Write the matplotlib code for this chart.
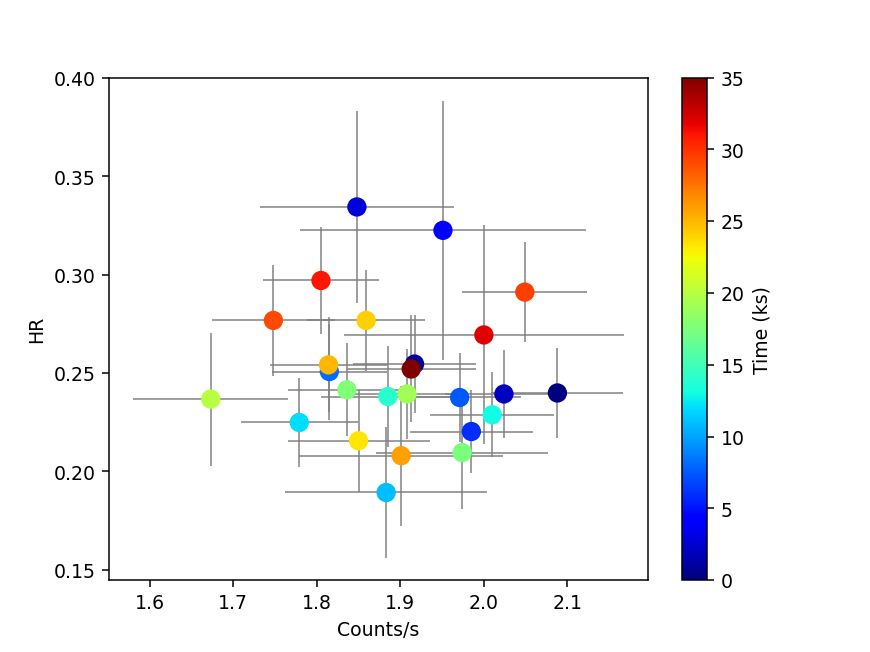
import numpy as np
from matplotlib import pyplot as plt

# time-ordered observations
time = [0.0, 1.0, 2.0, 2.8, 4.5, 6.0, 7.4, 8.2, 10.9, 12.0, 13.0, 14.0, 17.4,
        17.7, 19.1, 20.0, 23.3, 24.1, 25.1, 25.9, 29.0, 29.5, 31.0, 32.0, 35.0]
rate = [2.088, 1.917, 2.024, 1.848, 1.951, 1.985, 1.971, 1.815, 1.883, 1.779,
        2.010, 1.885, 1.974, 1.836, 1.908, 1.673, 1.850, 1.859, 1.814, 1.901,
        1.748, 2.049, 1.805, 2.000, 1.913]
rate_err = [0.079, 0.074, 0.070, 0.116, 0.171, 0.074, 0.074, 0.069, 0.121, 0.070,
            0.074, 0.080, 0.103, 0.070, 0.070, 0.093, 0.085, 0.071, 0.070, 0.122,
            0.074, 0.075, 0.070, 0.168, 0.077]
hr = [0.2399, 0.2546, 0.2394, 0.3345, 0.3226, 0.2203, 0.2376, 0.2508, 0.1893, 0.2249,
      0.2288, 0.2381, 0.2096, 0.2415, 0.2394, 0.2368, 0.2156, 0.2768, 0.2542, 0.2080,
      0.2768, 0.2912, 0.2971, 0.2694, 0.2521]
hr_err = [0.0231, 0.0249, 0.0223, 0.0487, 0.0657, 0.0213, 0.0227, 0.0244, 0.0331, 0.0227,
          0.0217, 0.0259, 0.0289, 0.0237, 0.0228, 0.0338, 0.0259, 0.0257, 0.0242, 0.0355,
          0.0284, 0.0254, 0.0274, 0.0557, 0.0272]

fig, ax = plt.subplots(figsize=(6.4, 4.8), dpi=136)

ax.errorbar(rate, hr, xerr=rate_err, yerr=hr_err, fmt='none',
            ecolor='grey', elinewidth=0.8, zorder=1)
sc = ax.scatter(rate, hr, c=time, cmap='jet', vmin=0, vmax=35, s=85, zorder=2)

ax.set_xlim(1.551, 2.197)
ax.set_ylim(0.1447, 0.4003)
ax.set_xlabel("Counts/s")
ax.set_ylabel("HR")

cb = fig.colorbar(sc, ax=ax)
cb.set_label("Time (ks)")

fig.savefig("out.png", dpi=136)
